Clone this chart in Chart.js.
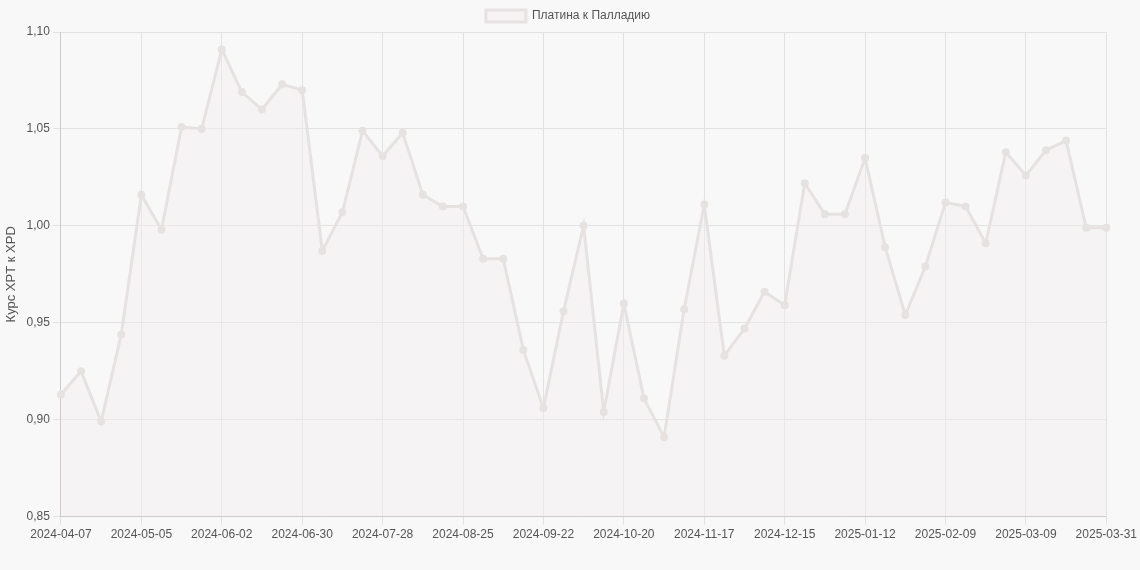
<!DOCTYPE html>
<html><head><meta charset="utf-8">
<script src="https://cdn.jsdelivr.net/npm/chart.js@4"></script>
<style>html,body{margin:0;background:#f8f8f8}#w{width:1140px;height:570px}</style>
</head><body><div id="w"><canvas id="c"></canvas></div>
<script>
const labels=["2024-04-07","2024-04-14","2024-04-21","2024-04-28","2024-05-05","2024-05-12","2024-05-19","2024-05-26","2024-06-02","2024-06-09","2024-06-16","2024-06-23","2024-06-30","2024-07-07","2024-07-14","2024-07-21","2024-07-28","2024-08-04","2024-08-11","2024-08-18","2024-08-25","2024-09-01","2024-09-08","2024-09-15","2024-09-22","2024-09-29","2024-10-06","2024-10-13","2024-10-20","2024-10-27","2024-11-03","2024-11-10","2024-11-17","2024-11-24","2024-12-01","2024-12-08","2024-12-15","2024-12-22","2024-12-29","2025-01-05","2025-01-12","2025-01-19","2025-01-26","2025-02-02","2025-02-09","2025-02-16","2025-02-23","2025-03-02","2025-03-09","2025-03-16","2025-03-23","2025-03-30","2025-03-31"];
const ratio=[0.913,0.925,0.899,0.944,1.016,0.998,1.051,1.050,1.091,1.069,1.060,1.073,1.070,0.987,1.007,1.049,1.036,1.048,1.016,1.010,1.010,0.983,0.983,0.936,0.906,0.956,1.000,0.904,0.960,0.911,0.891,0.957,1.011,0.933,0.947,0.966,0.959,1.022,1.006,1.006,1.035,0.989,0.954,0.979,1.012,1.010,0.991,1.038,1.026,1.039,1.044,0.999,0.999];
const seriesName="Платина к Палладию";
const yTitle="Курс XPT к XPD";
Chart.defaults.font.family="'Liberation Sans', Arial, sans-serif";
Chart.defaults.color="#555";
new Chart(document.getElementById('c'),{type:'line',
data:{labels,datasets:[{label:seriesName,data:ratio,borderColor:'rgba(230,226,226,1)',backgroundColor:'rgba(242,237,239,0.45)',fill:true,borderWidth:3,pointRadius:2.5,pointBackgroundColor:'rgba(230,226,226,1)',pointBorderColor:'rgba(230,226,226,1)',tension:0}]},
options:{responsive:true,maintainAspectRatio:false,animation:false,
layout:{padding:{right:4,bottom:25}},
plugins:{legend:{labels:{boxWidth:40,boxHeight:12,font:{size:12}}}},
scales:{x:{grid:{color:'#e2e2e2'},ticks:{autoSkip:false,maxRotation:0,font:{size:12},callback:(v,i)=>(i%4===0||i===labels.length-1)?labels[i]:null}},
y:{min:0.85,max:1.10,grid:{color:'#e2e2e2'},title:{display:true,text:yTitle,font:{size:13}},ticks:{stepSize:0.05,font:{size:12},callback:v=>v.toFixed(2).replace('.',',')}}}}});
</script></body></html>
